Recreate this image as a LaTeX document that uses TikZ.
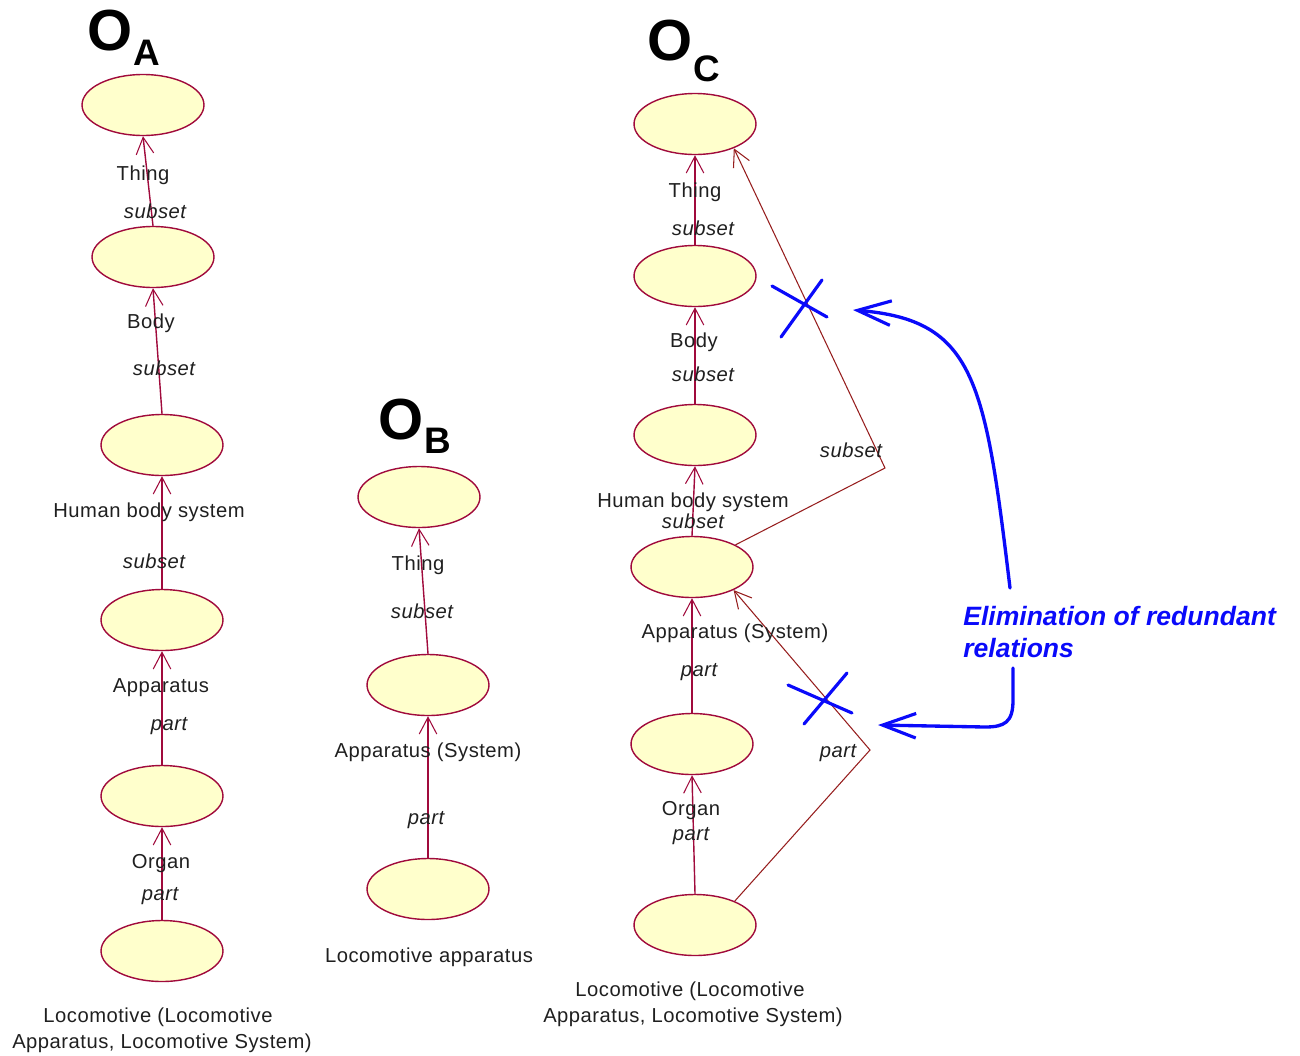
\documentclass[tikz,border=0pt]{standalone}
\usepackage{fontspec}
\setmainfont{Liberation Sans}
\newfontfamily\lblfont{Liberation Sans}[LetterSpace=2.5]
\usetikzlibrary{arrows.meta,shapes.geometric}

\definecolor{crim}{RGB}{160,10,60}
\definecolor{brick}{RGB}{150,30,30}
\definecolor{cream}{RGB}{255,255,204}
\definecolor{markblue}{RGB}{10,10,250}

% ontology name: big bold O with a lowered index letter
\newcommand{\ontname}[3]{O\kern#2\raisebox{#3}{\fontsize{21}{21}\selectfont #1}}

\begin{document}
\begin{tikzpicture}[x=0.02cm,y=-0.02cm,
  concept/.style={ellipse, draw=crim, fill=cream, line width=0.8pt,
    minimum width=2.44cm, minimum height=1.22cm, inner sep=0pt},
  lbl/.style={inner sep=0pt, anchor=base, text=black!88,
    font=\lblfont\fontsize{11.5}{13}\selectfont},
  rel/.style={inner sep=0pt, anchor=base, text=black!88,
    font=\lblfont\fontsize{11.5}{13}\selectfont\itshape},
  bigO/.style={inner sep=0pt, anchor=base west,
    font=\fontsize{33}{33}\selectfont\bfseries},
  isa/.style={draw=crim, line width=0.8pt,
    -{Straight Barb[length=9.5pt,width=10pt,line width=0.6pt]}},
  redund/.style={draw=brick, line width=0.6pt,
    -{Straight Barb[length=9.5pt,width=10pt,line width=0.6pt]}},
  cross/.style={draw=markblue, line width=1.8pt, line cap=round},
  hint/.style={draw=markblue, line width=1.9pt, line cap=round,
    -{Straight Barb[length=19pt,width=14pt,line width=1.8pt]}},
  note/.style={inner sep=0pt, anchor=base west, text=markblue,
    font=\fontsize{15.1}{17}\selectfont\bfseries\itshape}
]
\useasboundingbox (0,0) rectangle (1300,1055);

% ---------------- ontology O_A ----------------
\node[bigO] (oaO) at (87,50) {\ontname{A}{0.02cm}{-0.32cm}};

\node[concept] (a1) at (143,105) {};
\node[concept] (a2) at (153,257) {};
\node[concept] (a3) at (162,445) {};
\node[concept] (a4) at (162,620) {};
\node[concept] (a5) at (162,796) {};
\node[concept] (a6) at (162,951) {};

\draw[isa] (a2.north) -- (a1.south);
\draw[isa] (a3.north) -- (a2.south);
\draw[isa] (a4.north) -- (a3.south);
\draw[isa] (a5.north) -- (a4.south);
\draw[isa] (a6.north) -- (a5.south);

\node[lbl] (a1t) at (143,180) {Thing};
\node[rel] (a12r) at (155,218) {subset};
\node[lbl] (a2t) at (151,328) {Body};
\node[rel] (a23r) at (164,375) {subset};
\node[lbl] (a3t) at (149,517) {Human body system};
\node[rel] (a34r) at (154,568) {subset};
\node[lbl] (a4t) at (161,692) {Apparatus};
\node[rel] (a45r) at (169,730) {part};
\node[lbl] (a5t) at (161,868) {Organ};
\node[rel] (a56r) at (160,900) {part};
\node[lbl] (a6t) at (158,1022) {Locomotive (Locomotive};
\node[lbl] (a6u) at (162,1048) {Apparatus, Locomotive System)};

% ---------------- ontology O_B ----------------
\node[bigO] (obO) at (378,439) {\ontname{B}{0.02cm}{-0.28cm}};

\node[concept] (b1) at (419,497) {};
\node[concept] (b2) at (428,685) {};
\node[concept] (b3) at (428,889) {};

\draw[isa] (b2.north) -- (b1.south);
\draw[isa] (b3.north) -- (b2.south);

\node[lbl] (b1t) at (418,570) {Thing};
\node[rel] (b12r) at (422,618) {subset};
\node[lbl] (b2t) at (428,757) {Apparatus (System)};
\node[rel] (b23r) at (426,824) {part};
\node[lbl] (b3t) at (429,962) {Locomotive apparatus};

% ---------------- ontology O_C ----------------
\node[bigO] (ocO) at (647,60) {\ontname{C}{0.02cm}{-0.44cm}};

\node[concept] (c1) at (695,124) {};
\node[concept] (c2) at (695,276) {};
\node[concept] (c3) at (695,435) {};
\node[concept] (c4) at (692,567) {};
\node[concept] (c5) at (692,744) {};
\node[concept] (c6) at (695,925) {};

\draw[isa] (c2.north) -- (c1.south);
\draw[isa] (c3.north) -- (c2.south);
\draw[isa] (c4.north) -- (c3.south);
\draw[isa] (c5.north) -- (c4.south);
\draw[isa] (c6.north) -- (c5.south);

% redundant (transitive) relations
\coordinate (k1) at (885,468);
\coordinate (k2) at (870,750);
\draw[redund] (c4.27) -- (k1) -- (c1.-32);
\draw[redund] (c6.31) -- (k2) -- (c4.-29);

\node[lbl] (c1t) at (695,197) {Thing};
\node[rel] (c12r) at (703,235) {subset};
\node[lbl] (c2t) at (694,347) {Body};
\node[rel] (c23r) at (703,381) {subset};
\node[lbl] (c3t) at (693,507) {Human body system};
\node[rel] (c34r) at (693,528) {subset};
\node[lbl] (c4t) at (735,638) {Apparatus (System)};
\node[rel] (c45r) at (699,676) {part};
\node[lbl] (c5t) at (691,815) {Organ};
\node[rel] (c56r) at (691,840) {part};
\node[lbl] (c6t) at (690,996) {Locomotive (Locomotive};
\node[lbl] (c6u) at (693,1022) {Apparatus, Locomotive System)};
\node[rel] (k1r) at (851,457) {subset};
\node[rel] (k2r) at (838,757) {part};

% ---------------- crossing-out marks ----------------
\draw[cross] (772,286) -- (827,317);
\draw[cross] (822,280) -- (781,337);
\draw[cross] (788,685) -- (852,713);
\draw[cross] (847,673) -- (804,724);

% ---------------- annotation ----------------
\node[note] (elim1) at (963,625) {Elimination of redundant};
\node[note] (elim2) at (963,657) {relations};

\coordinate (h1s) at (1010,588);
\coordinate (h1e) at (853,310);
\coordinate (h2s) at (1013,668);
\coordinate (h2e) at (878,725);
\draw[hint] (h1s) .. controls (985,380) and (975,320) .. (h1e);
\draw[hint] (h2s) -- (1013,700) .. controls (1013,722) and (1005,727) .. (985,727) -- (h2e);
\end{tikzpicture}
\end{document}
